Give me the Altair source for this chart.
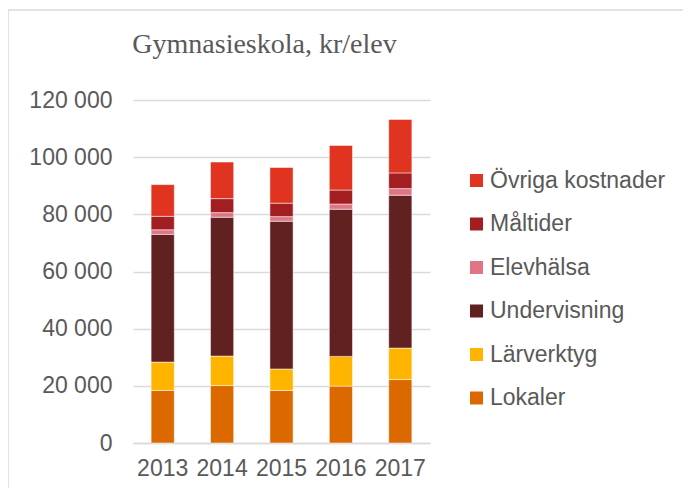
import altair as alt
import pandas as pd

years = ["2013", "2014", "2015", "2016", "2017"]
categories = ["Övriga kostnader", "Måltider", "Elevhälsa", "Undervisning", "Lärverktyg", "Lokaler"]
colors = ["#E03320", "#A21E21", "#E07585", "#622121", "#FFB400", "#DB6900"]

lokaler = [18400, 20100, 18400, 19900, 22200]
larverktyg = [9900, 10300, 7500, 10400, 11000]
undervisning = [44700, 48600, 51700, 51500, 53500]
elevhalsa = [1600, 1600, 1600, 1800, 2300]
maltider = [4700, 4900, 4700, 4900, 5500]
ovriga = [11100, 12800, 12500, 15600, 18700]

y_ticks = [0, 20000, 40000, 60000, 80000, 100000, 120000]

series = {
    "Lokaler": lokaler,
    "Lärverktyg": larverktyg,
    "Undervisning": undervisning,
    "Elevhälsa": elevhalsa,
    "Måltider": maltider,
    "Övriga kostnader": ovriga,
}

rows = []
for stack_i, (cat, vals) in enumerate(series.items()):
    for y, v in zip(years, vals):
        rows.append({"År": y, "Kategori": cat, "Värde": v, "ordning": stack_i})
df = pd.DataFrame(rows)

text_color = "#595959"
font = "Liberation Sans"

bars = alt.Chart(df).mark_bar(stroke="white", strokeWidth=0.5).encode(
    x=alt.X("År:N", sort=years,
            scale=alt.Scale(paddingInner=0.61, paddingOuter=0.305),
            axis=alt.Axis(title=None, labelAngle=0, ticks=False, domainColor="#D9D9D9",
                          domainWidth=1.5, labelFontSize=23, labelColor=text_color,
                          labelFont=font, labelPadding=14, grid=False)),
    y=alt.Y("Värde:Q", stack="zero",
            scale=alt.Scale(domain=[0, 120000], nice=False),
            axis=alt.Axis(title=None, values=y_ticks, ticks=False, domain=False,
                          gridColor="#D9D9D9", gridWidth=1.5,
                          labelExpr="replace(format(datum.value, ','), ',', ' ')",
                          labelFontSize=23, labelColor=text_color, labelFont=font,
                          labelPadding=21)),
    color=alt.Color("Kategori:N",
                    scale=alt.Scale(domain=categories, range=colors),
                    legend=alt.Legend(title=None, orient="none", legendX=332, legendY=69,
                                      symbolType="square", symbolSize=169,
                                      symbolStrokeWidth=0, labelFontSize=23,
                                      labelColor=text_color, labelFont=font,
                                      labelLimit=400,
                                      labelOffset=2, rowPadding=19.5, padding=0)),
    order=alt.Order("ordning:Q", sort="ascending"),
)

border = alt.Chart(alt.Data(values=[{}])).mark_rect(
    fill=None, stroke="#D9D9D9", strokeWidth=1.5
).encode(
    x=alt.value(-125), x2=alt.value(600), y=alt.value(-90), y2=alt.value(420)
)

chart = alt.layer(border, bars).properties(
    width=297,
    height=343,
    autosize=alt.AutoSizeParams(type="none"),
    padding={"left": 125, "top": 92, "right": 253, "bottom": 45},
    title=alt.TitleParams("Gymnasieskola, kr/elev", font="Liberation Serif",
                          fontSize=28, fontWeight="normal", color=text_color,
                          anchor="middle", dx=-17, offset=-50),
).configure_view(stroke=None)

chart.save("out.html", embed_options={"renderer": "svg", "actions": False})
